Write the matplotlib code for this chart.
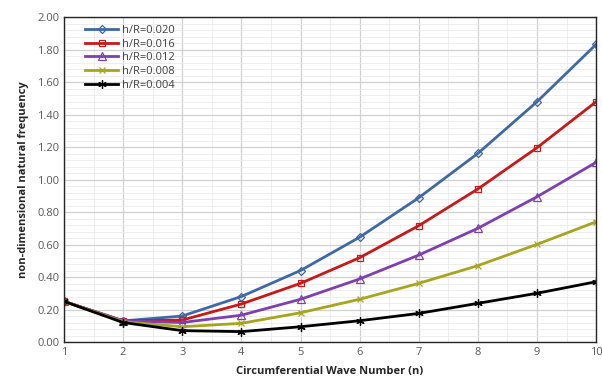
import matplotlib
matplotlib.use("Agg")
import matplotlib.pyplot as plt
from matplotlib.ticker import MultipleLocator

n = [1, 2, 3, 4, 5, 6, 7, 8, 9, 10]
labels = ["h/R=0.020", "h/R=0.016", "h/R=0.012", "h/R=0.008", "h/R=0.004"]
s020 = [0.25, 0.13, 0.16, 0.28, 0.44, 0.645, 0.888, 1.161, 1.479, 1.832]
s016 = [0.25, 0.13, 0.135, 0.234, 0.361, 0.519, 0.716, 0.942, 1.196, 1.479]
s012 = [0.25, 0.13, 0.12, 0.165, 0.263, 0.388, 0.535, 0.700, 0.894, 1.106]
s008 = [0.25, 0.125, 0.094, 0.115, 0.180, 0.263, 0.361, 0.470, 0.601, 0.740]
s004 = [0.25, 0.12, 0.07, 0.064, 0.094, 0.131, 0.176, 0.238, 0.300, 0.371]
series = [s020, s016, s012, s008, s004]
colors = ["#3E68A8", "#C81818", "#7E3FB0", "#A6A61E", "#000000"]
markers = ["D", "s", "^", "x", (6, 2, 0)]
msizes = [4, 5, 5.5, 5, 6]

plt.rcParams['font.family'] = ['Open Sans', 'DejaVu Sans']
fig = plt.figure(figsize=(6.02, 3.79), dpi=100)
ax = fig.add_axes([0.1063, 0.0976, 0.884, 0.8574])

for ys, c, m, ms, lab in zip(series, colors, markers, msizes, labels):
    ax.plot(n, ys, color=c, lw=2.0, marker=m, markersize=ms,
            markerfacecolor='none', markeredgecolor=c, markeredgewidth=0.9, label=lab)

ax.set_xlim(1, 10)
ax.set_ylim(0, 2.0)
ax.xaxis.set_major_locator(MultipleLocator(1))
ax.xaxis.set_minor_locator(MultipleLocator(0.5))
ax.yaxis.set_major_locator(MultipleLocator(0.2))
ax.yaxis.set_minor_locator(MultipleLocator(0.04))
ax.set_yticklabels([f"{v:.2f}" for v in ax.get_yticks()])
ax.grid(which='major', color='#D0D0D0', lw=0.9)
ax.grid(which='minor', color='#EBEBEB', lw=0.6)
ax.set_axisbelow(True)
ax.tick_params(which='both', length=0)
ax.tick_params(axis='both', labelsize=8, colors='#595959')
for sp in ax.spines.values():
    sp.set_color('#262626')
    sp.set_linewidth(1.0)
ax.set_xlabel("Circumferential Wave Number (n)", fontsize=8, fontweight='bold', color='#262626', labelpad=6)
ax.set_ylabel("non-dimensional natural frequency", fontsize=8, fontweight='bold', color='#262626', labelpad=6)
leg = ax.legend(loc='upper left', frameon=False, fontsize=8, handlelength=3.0, handletextpad=0.3,
                labelspacing=0.25, borderaxespad=0.3, bbox_to_anchor=(0.025, 1.0))
for t in leg.get_texts():
    t.set_color('#404040')
fig.savefig("out.png", dpi=100)
